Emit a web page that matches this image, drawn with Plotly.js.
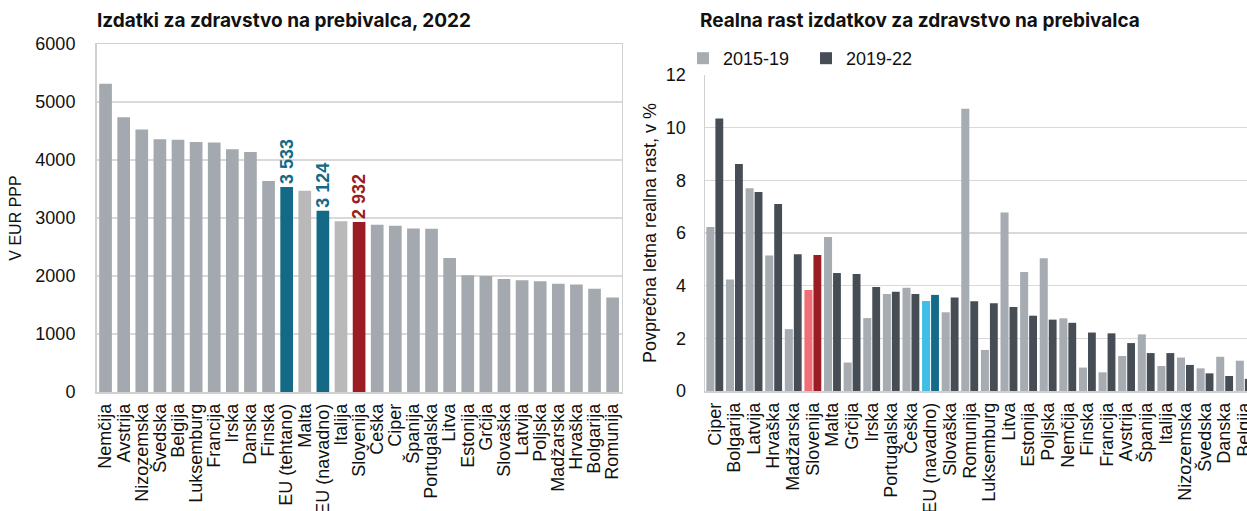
<!DOCTYPE html>
<html>
<head>
<meta charset="utf-8">
<script src="https://cdn.plot.ly/plotly-3.0.1.min.js"></script>
<style>html,body{margin:0;padding:0;background:#fff;}#chart{width:1247px;height:511px;}</style>
</head>
<body>
<div id="chart"></div>
<script>
// Left chart: health expenditure per capita, 2022 (EUR PPP)
const leftCats = ['Nemčija','Avstrija','Nizozemska','Švedska','Belgija','Luksemburg','Francija','Irska','Danska','Finska','EU (tehtano)','Malta','EU (navadno)','Italija','Slovenija','Češka','Ciper','Španija','Portugalska','Litva','Estonija','Grčija','Slovaška','Latvija','Poljska','Madžarska','Hrvaška','Bolgarija','Romunija'];
const leftVals = [5314,4738,4525,4358,4347,4312,4301,4185,4139,3638,3533,3470,3124,2945,2932,2884,2867,2821,2815,2312,2012,2000,1948,1925,1908,1867,1855,1780,1630];
const leftLabeled = ['EU (tehtano)','EU (navadno)','Slovenija'];

// Right chart: average annual real growth of health expenditure per capita (%)
const rightCats = ['Ciper','Bolgarija','Latvija','Hrvaška','Madžarska','Slovenija','Malta','Grčija','Irska','Portugalska','Češka','EU (navadno)','Slovaška','Romunija','Luksemburg','Litva','Estonija','Poljska','Nemčija','Finska','Francija','Avstrija','Španija','Italija','Nizozemska','Švedska','Danska','Belgija'];
const growth1519 = [6.23,4.23,7.70,5.15,2.35,3.84,5.85,1.08,2.77,3.68,3.92,3.42,2.99,10.72,1.56,6.78,4.52,5.04,2.76,0.89,0.71,1.33,2.15,0.95,1.27,0.86,1.30,1.15];
const growth1922 = [10.35,8.62,7.56,7.10,5.19,5.16,4.48,4.44,3.95,3.77,3.68,3.65,3.55,3.41,3.33,3.19,2.86,2.71,2.59,2.22,2.19,1.82,1.44,1.44,0.99,0.67,0.57,0.46];

const leftYTicks = [0,1000,2000,3000,4000,5000,6000];
const rightYTicks = [0,2,4,6,8,10,12];

// style maps
const leftColor = c => (c.startsWith('EU') ? '#136986' : c === 'Slovenija' ? '#9b1c22' : (c === 'Malta' || c === 'Italija') ? '#b9b9b9' : '#a3a9ae');
const leftTextColor = c => (c === 'Slovenija' ? '#9b1c22' : '#136986');
const fmt = v => String(v).replace(/\B(?=(\d{3})+(?!\d))/g, ' ');
const light = c => (c === 'Slovenija' ? '#f06f77' : c === 'EU (navadno)' ? '#3fbfe6' : '#a6acb1');
const dark = c => (c === 'Slovenija' ? '#9b1c22' : c === 'EU (navadno)' ? '#146a88' : '#464d54');

const tickFont = {family: 'Liberation Sans, Arial, sans-serif', size: 18, color: '#111'};

const traces = [
  {
    type: 'bar', x: leftCats, y: leftVals, xaxis: 'x', yaxis: 'y', width: 0.7,
    marker: {color: leftCats.map(leftColor)},
    text: leftCats.map((c, i) => leftLabeled.includes(c) ? fmt(leftVals[i]) : ''),
    textposition: 'outside', textangle: -90, cliponaxis: false, constraintext: 'none',
    textfont: {family: 'Liberation Sans, Arial, sans-serif', size: 18, weight: 'bold', color: leftCats.map(leftTextColor)},
    showlegend: false, hoverinfo: 'x+y'
  },
  {
    type: 'bar', name: '2015-19', x: rightCats, y: growth1519, xaxis: 'x2', yaxis: 'y2',
    offset: -0.43, width: 0.41, marker: {color: rightCats.map(light)}
  },
  {
    type: 'bar', name: '2019-22', x: rightCats, y: growth1922, xaxis: 'x2', yaxis: 'y2',
    offset: 0.03, width: 0.40, marker: {color: rightCats.map(dark)}
  }
];

const axisBase = {showgrid: false, zeroline: false, ticks: '', tickfont: tickFont, fixedrange: true};

const layout = {
  width: 1247, height: 511,
  margin: {l: 0, r: 0, t: 0, b: 0},
  paper_bgcolor: '#fff', plot_bgcolor: '#fff',
  barmode: 'overlay',
  font: {family: 'Liberation Sans, Arial, sans-serif', color: '#111'},
  xaxis: Object.assign({}, axisBase, {
    domain: [96.5/1247, 621.7/1247], range: [-0.5, 28.5], tickangle: -90,
    tickmode: 'array', tickvals: leftCats, ticktext: leftCats,
    showline: true, mirror: true, linecolor: '#d0d0d0', linewidth: 1.5, ticklabelstandoff: 3
  }),
  yaxis: Object.assign({}, axisBase, {
    domain: [(511-392)/511, (511-44)/511], range: [0, 6000], tickvals: leftYTicks,
    showgrid: true, gridcolor: '#d9d9d9', gridwidth: 1.5,
    showline: true, mirror: true, linecolor: '#d0d0d0', linewidth: 1.5, ticklabelstandoff: 16,
    title: {text: 'V EUR PPP', font: {size: 16, color: '#111'}, standoff: 10}
  }),
  xaxis2: Object.assign({}, axisBase, {
    anchor: 'y2', domain: [705/1247, 1], range: [-0.5, 27.14], tickangle: -90,
    tickmode: 'array', tickvals: rightCats, ticktext: rightCats,
    showline: true, linecolor: '#d0d0d0', linewidth: 1.5, ticklabelstandoff: 3
  }),
  yaxis2: Object.assign({}, axisBase, {
    anchor: 'x2', domain: [(511-391)/511, (511-75)/511], range: [0, 12], tickvals: rightYTicks,
    showgrid: true, gridcolor: '#d9d9d9', gridwidth: 1.5,
    showline: true, linecolor: '#d0d0d0', linewidth: 1.5, ticklabelstandoff: 14,
    title: {text: 'Povprečna letna realna rast, v %', font: {size: 18, color: '#111'}, standoff: 4}
  }),
  legend: {
    orientation: 'h', x: 683/1247, xanchor: 'left', y: (511-40)/511, yanchor: 'top',
    font: {size: 18, color: '#111'}, entrywidth: 78, entrywidthmode: 'pixels',
    bgcolor: 'rgba(0,0,0,0)', itemclick: false, itemdoubleclick: false
  },
  annotations: [
    {xref: 'paper', yref: 'paper', x: 95/1247, y: (511-20)/511, xanchor: 'left', yanchor: 'middle', showarrow: false,
     text: '<b>Izdatki za zdravstvo na prebivalca, 2022</b>', font: {family: 'Inter, Liberation Sans, sans-serif', size: 19, color: '#111'}},
    {xref: 'paper', yref: 'paper', x: 698/1247, y: (511-20)/511, xanchor: 'left', yanchor: 'middle', showarrow: false,
     text: '<b>Realna rast izdatkov za zdravstvo na prebivalca</b>', font: {family: 'Inter, Liberation Sans, sans-serif', size: 19, color: '#111'}}
  ]
};

Plotly.newPlot('chart', traces, layout, {displayModeBar: false, staticPlot: true});
</script>
</body>
</html>
